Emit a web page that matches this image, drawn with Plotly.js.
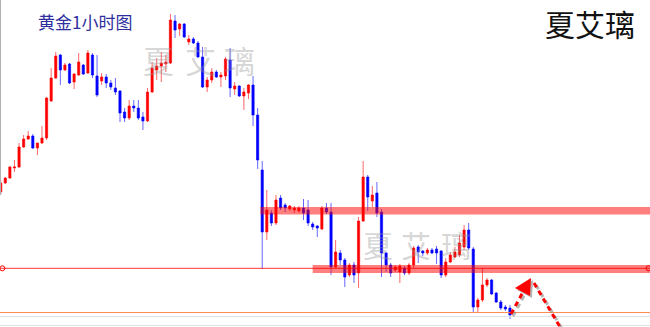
<!DOCTYPE html>
<html><head><meta charset="utf-8">
<script src="https://cdn.plot.ly/plotly-3.0.1.min.js"></script>
<style>html,body{margin:0;padding:0;background:#fff;overflow:hidden}</style>
</head><body><div id="chart" style="width:650px;height:327px"></div>
<script>
// Gold 1-hour candles (arbitrary price units)
const opens = [135,144,149,159,160,180,188,191,179,184,
  189,226,249,272,257,263,245,252,262,254,
  272,251,246,250,244,239,236,215,209,221,
  219,210,206,235,257,261,263,264,306,298,
  303,285,288,284,270,240,247,255,250,251,
  267,238,241,231,234,242,212,157,95,114,
  104,129,122,118,117,116,119,117,103,101,
  98,119,115,60,74,67,52,62,54,106,
  150,126,134,115,74,62,57,55,59,54,
  62,80,76,74,77,78,76,52,65,70,
  72,80,97,78,20,27,42,47,34,25,
  20,19];
const highs = [147,150,161,167,184,192,196,193,184,201,
  230,259,275,273,264,264,254,274,263,277,
  274,272,254,253,247,249,237,219,227,227,
  227,215,239,265,269,275,272,313,312,304,
  304,292,290,286,280,250,259,257,255,270,
  279,245,242,239,243,251,219,166,137,117,
  132,132,124,122,121,121,128,127,105,102,
  121,124,124,87,77,69,64,65,110,166,
  152,141,145,118,75,64,62,63,61,64,
  81,82,77,79,79,81,77,69,75,80,
  92,102,104,80,29,59,49,48,35,27,
  22,22];
const lows = [132,143,148,155,159,179,187,178,172,183,
  187,225,248,242,256,243,238,251,252,253,
  249,230,242,239,237,232,205,205,207,215,
  207,197,205,234,247,245,255,263,289,291,
  289,282,283,269,239,235,244,249,240,247,
  230,232,230,217,228,201,158,58,87,101,
  102,117,115,116,114,114,107,101,97,90,
  97,113,52,59,62,40,50,44,39,105,
  116,120,110,50,55,50,55,44,52,52,
  59,64,71,72,73,63,49,50,64,69,
  70,77,77,14,14,25,40,32,24,17,
  16,8];
const closes = [144,149,160,160,180,188,191,179,184,189,
  229,249,271,257,262,244,253,265,253,274,
  252,232,250,244,240,235,214,209,221,219,
  209,206,235,259,261,264,265,307,297,303,
  290,288,284,270,240,247,255,250,252,268,
  239,241,231,235,242,212,167,95,117,104,
  127,119,119,121,119,119,114,104,100,99,
  119,115,60,75,67,50,62,52,106,150,
  130,132,114,74,62,54,60,61,54,62,
  79,75,74,77,74,74,52,65,72,75,
  84,97,79,20,27,42,47,33,25,19,
  18,12];
const bars = opens.map((_, i) => i);

// Horizontal levels: [lower, upper, start bar]
const zoneUpper = [112.5, 120, 56.6];
const zoneLower = [54, 62, 68.0];
const lineRed = 58.7;
const lineOrange = 14.5;
const lineGray = [10.5, 1.5];

const titleText = '黄金1小时图';
const brandText = '夏艾璃';
const markChars = ['夏','艾','璃'];

const W = 650, H = 327;
const px = v => v / W, py = v => 1 - v / H;

const trace = {
  type: 'candlestick', x: bars, open: opens, high: highs, low: lows, close: closes,
  increasing: {line: {color: 'rgba(255,0,0,0.6)', width: 1}, fillcolor: '#ff0000'},
  decreasing: {line: {color: 'rgba(0,0,255,0.6)', width: 1}, fillcolor: '#0000ff'},
  whiskerwidth: 0, hoverinfo: 'skip', showlegend: false
};

const shapes = [];
// left border line
shapes.push({type:'line', xref:'paper', yref:'paper', x0:px(0.5), x1:px(0.5), y0:py(0), y1:py(195), line:{color:'#b0b0b0', width:1}});
// zones
[zoneUpper, zoneLower].forEach(z => shapes.push({type:'rect', xref:'x', yref:'y', x0:z[2], x1:200, y0:z[0], y1:z[1], fillcolor:'rgba(255,0,0,0.5)', line:{width:0}, layer:'above'}));
shapes.push({type:'line', xref:'paper', yref:'y', x0:0, x1:1, y0:lineRed, y1:lineRed, line:{color:'rgba(255,0,0,0.8)', width:1}, layer:'above'});
shapes.push({type:'line', xref:'paper', yref:'y', x0:0, x1:1, y0:lineOrange, y1:lineOrange, line:{color:'#ff8c55', width:1}});
lineGray.forEach(g => shapes.push({type:'line', xref:'paper', yref:'y', x0:0, x1:1, y0:g, y1:g, line:{color:'#e2e2e2', width:1}}));
// small circles at the red line ends
[0.35, 141.2].forEach(xa => shapes.push({type:'circle', xref:'x', yref:'y', xsizemode:'pixel', ysizemode:'pixel', xanchor:xa, yanchor:lineRed, x0:-2.5, x1:2.5, y0:-2.5, y1:2.5, line:{color:'#ff0000', width:1}, fillcolor:'rgba(0,0,0,0)', layer:'above'}));

// dashed arrow (pixel positions of the hand-drawn markup)
function seg(a, b, color) {
  return {type:'line', xref:'paper', yref:'paper', x0:px(a[0]), y0:py(a[1]), x1:px(b[0]), y1:py(b[1]), line:{color:color, width:3, dash:'5px,4px'}, layer:'above'};
}
function tri(p, color) {
  return {type:'path', xref:'paper', yref:'paper', path:'M' + p.map(q => px(q[0]) + ',' + py(q[1])).join(' L') + ' Z', fillcolor:color, line:{width:0}, layer:'above'};
}
const arrowA = [[511, 314], [523, 292]];
const arrowHead = [[531, 278], [515, 288], [530, 296]];
const arrowB = [[534, 283], [563, 332]];
const off = p => p.map(q => [q[0] + 2, q[1] + 2]);
shapes.push(seg(...off(arrowA), 'rgba(120,120,120,0.55)'));
shapes.push(tri(off(arrowHead), 'rgba(120,120,120,0.55)'));
shapes.push(seg(...off(arrowB), 'rgba(120,120,120,0.55)'));
shapes.push(seg(...arrowA, '#ff0000'));
shapes.push(tri(arrowHead, '#ff0000'));
shapes.push(seg(...arrowB, '#ff0000'));

const annotations = [];
const cjk = '"Noto Sans CJK SC", "Noto Sans", sans-serif';
annotations.push({xref:'paper', yref:'paper', x:px(36), y:py(21), xanchor:'left', yanchor:'middle', text:titleText, showarrow:false, font:{family:cjk, size:17, color:'#2e2e9e'}});
annotations.push({xref:'paper', yref:'paper', x:px(590), y:1, xanchor:'center', yanchor:'top', borderpad:0, text:brandText, showarrow:false, font:{family:cjk, size:30, color:'#111111'}});
const wm1 = [158, 200, 239], wm2 = [378, 416, 456];
markChars.forEach((c, i) => {
  annotations.push({xref:'paper', yref:'paper', x:px(wm1[i]), y:py(59), xanchor:'center', yanchor:'middle', text:c, showarrow:false, font:{family:cjk, size:31, color:'rgba(150,150,150,0.4)'}});
  annotations.push({xref:'paper', yref:'paper', x:px(wm2[i]), y:py(244), xanchor:'center', yanchor:'middle', text:c, showarrow:false, font:{family:cjk, size:30, color:'rgba(150,150,150,0.4)'}});
});

const layout = {
  width: W, height: H, margin: {l:0, r:0, t:0, b:0},
  paper_bgcolor: '#ffffff', plot_bgcolor: '#ffffff',
  xaxis: {range: [-0.7/4.588, (W - 0.7)/4.588], visible: false, rangeslider: {visible: false}, fixedrange: true},
  yaxis: {range: [0, H], visible: false, fixedrange: true},
  boxgap: 0.3, showlegend: false, shapes: shapes, annotations: annotations
};
Plotly.newPlot('chart', [trace], layout, {staticPlot: true, displayModeBar: false});
</script></body></html>
